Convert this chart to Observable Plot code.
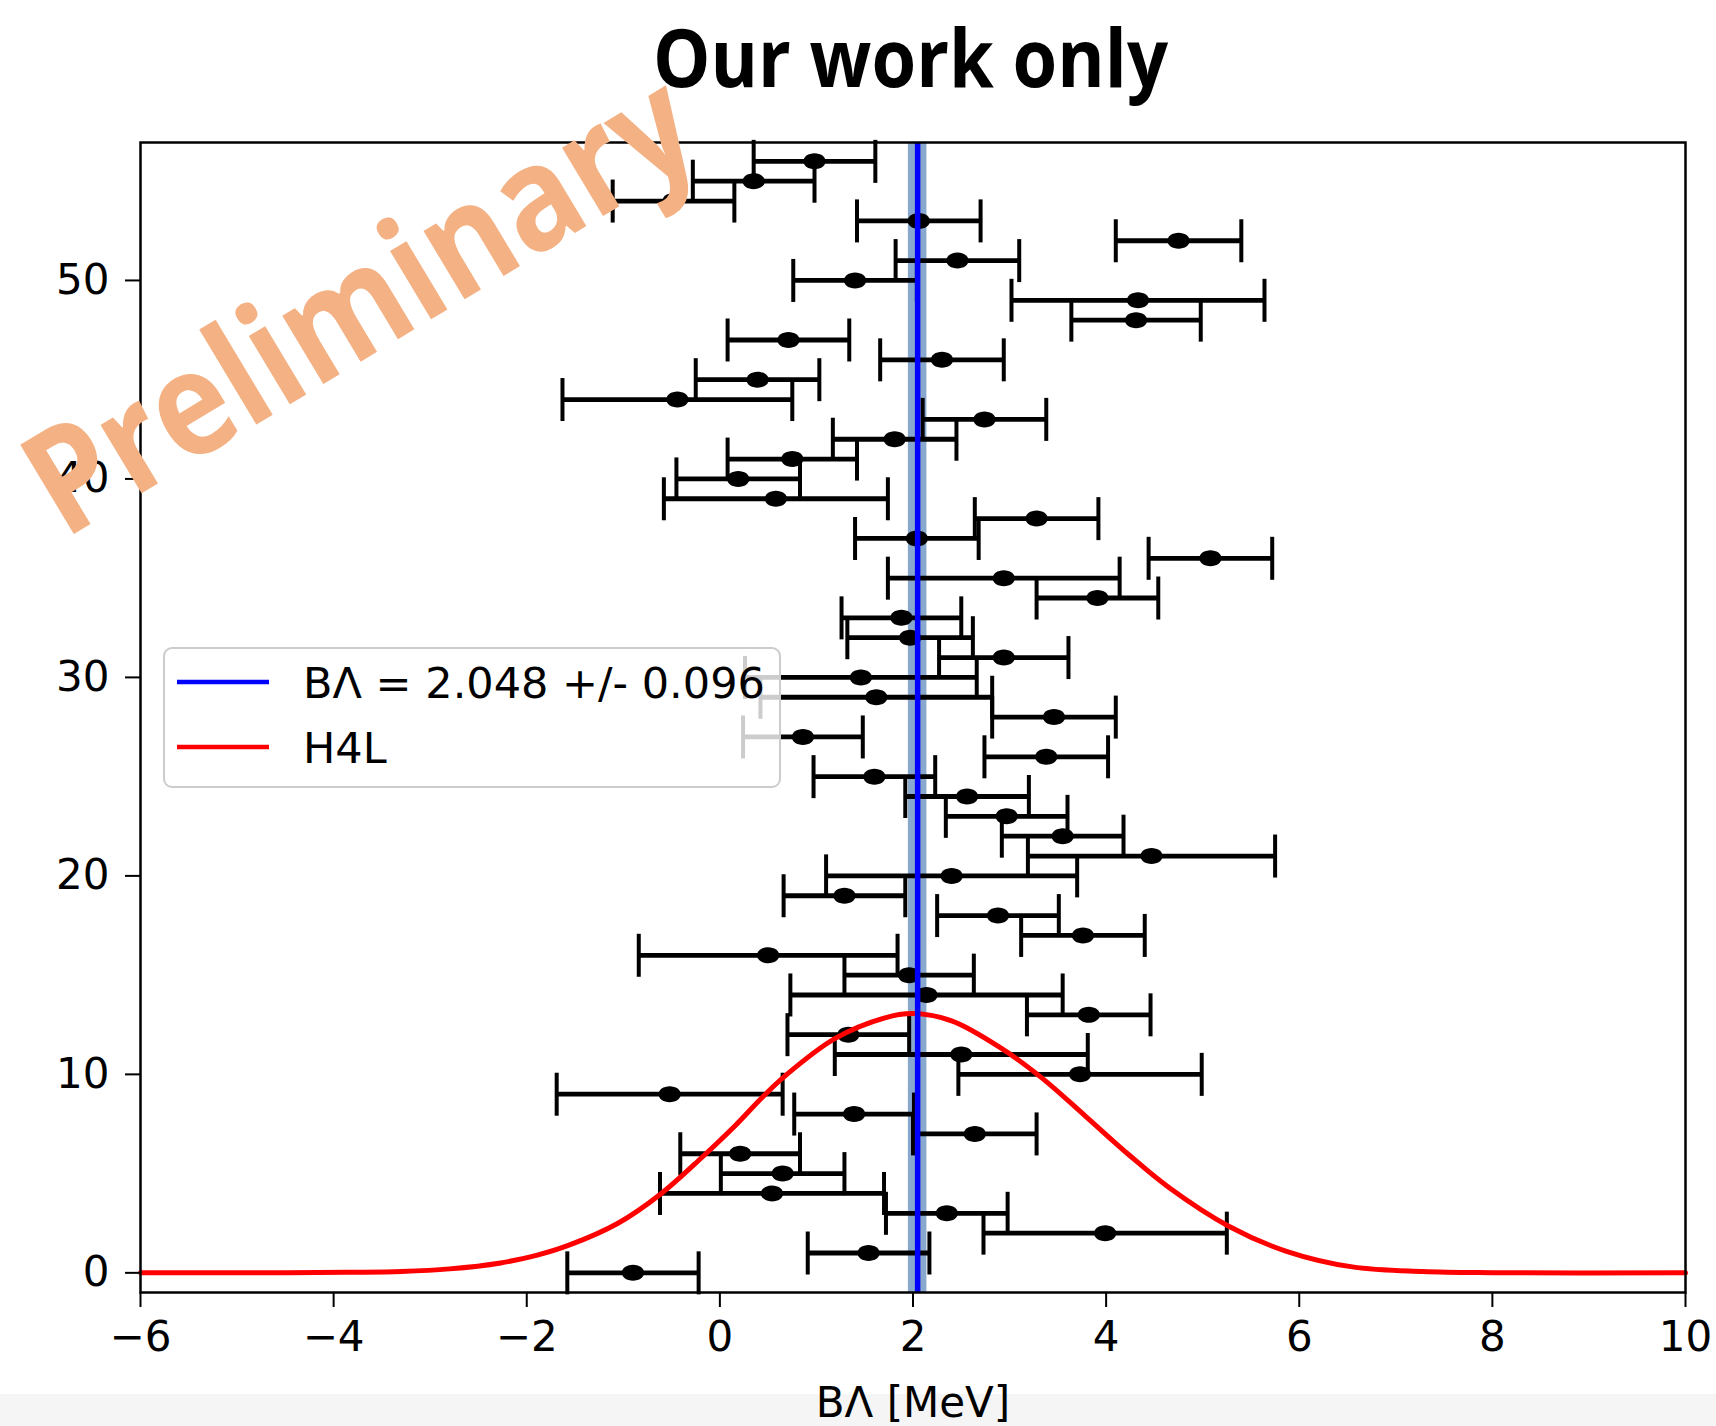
<!DOCTYPE html>
<html><head><meta charset="utf-8">
<script src="https://cdn.jsdelivr.net/npm/d3@7"></script>
<script src="https://cdn.jsdelivr.net/npm/@observablehq/plot@0.6"></script>
<style>
html,body{margin:0;padding:0;background:#fff;}
#wrap{position:relative;width:1716px;height:1426px;overflow:hidden;background:#fff;}
#strip{position:absolute;left:0;top:1394px;width:1716px;height:32px;background:#f5f5f5;}
#chart{position:absolute;left:0;top:0;}
#over{position:absolute;left:0;top:0;pointer-events:none;}
</style></head><body>
<div id="wrap"><div id="strip"></div><div id="chart"></div>
<svg id="over" width="1716" height="1426"></svg></div>
<script>
// ---- text ----
const titleText = "Our work only";
const xLabel = "BΛ [MeV]";
const watermarkText = "Preliminary";
const legendLabels = ["BΛ = 2.048 +/- 0.096", "H4L"];
const legendColors = ["blue", "red"];

// ---- fit result ----
const fitMean = 2.048;
const fitErr = 0.096;

// ---- measurements (index, value, half error) ----
const entryIndex = d3.range(57);
const entryValue = [-0.90, 1.54, 3.99, 2.35, 0.54, 0.65, 0.21, 2.64, 1.39, -0.52,
  3.73, 2.50, 1.33, 3.82, 2.14, 1.96, 0.50, 3.76, 2.88, 1.29,
  2.40, 4.47, 3.55, 2.97, 2.56, 1.60, 3.38, 0.86, 3.46, 1.62,
  1.46, 2.94, 1.97, 1.88, 3.91, 2.94, 5.08, 2.04, 3.28, 0.58,
  0.19, 0.75, 1.81, 2.74, -0.44, 0.39, 2.30, 0.71, 4.31, 4.33,
  1.40, 2.46, 4.75, 2.06, -0.48, 0.35, 0.98];
const entryError = [0.68, 0.63, 1.26, 0.63, 1.16, 0.64, 0.62, 0.64, 0.62, 1.17,
  1.26, 1.31, 0.63, 0.64, 1.41, 0.67, 1.34, 0.64, 0.63, 0.63,
  1.30, 1.28, 0.63, 0.63, 0.64, 0.63, 0.64, 0.62, 0.64, 1.20,
  1.20, 0.67, 0.65, 0.62, 0.63, 1.20, 0.64, 0.64, 0.64, 1.16,
  0.64, 0.67, 0.64, 0.64, 1.19, 0.64, 0.64, 0.63, 0.67, 1.31,
  0.64, 0.64, 0.65, 0.64, 0.63, 0.63, 0.63];

// ---- H4L curve ----
const curveX = [-6, -4.5, -3.8, -3.3, -2.8, -2.27, -1.9, -1.57, -1.055, -0.606,
  -0.19, 0.155, 0.43, 0.67, 1.19, 1.71, 1.99, 2.40, 2.92, 3.34,
  3.785, 4.235, 4.65, 5.27, 5.86, 6.55, 7.28, 8, 10];
const curveY = [0, 0.01, 0.03, 0.07, 0.2, 0.5, 0.88, 1.38, 2.5, 4.0,
  5.8, 7.4, 8.8, 9.9, 11.8, 12.85, 13.07, 12.7, 11.3, 9.8,
  7.9, 5.95, 4.3, 2.35, 1.1, 0.3, 0.07, 0.01, 0];

// ---- ticks ----
const xTicks = [-6, -4, -2, 0, 2, 4, 6, 8, 10];
const yTicks = [0, 10, 20, 30, 40, 50];
const xDomain = [-6, 10];
const yDomain = [-0.99, 56.95];

const rows = entryIndex.map((y, i) => ({y, x: entryValue[i], e: entryError[i]}));
const curve = curveX.map((x, i) => ({x, y: curveY[i]}));

const capSymbol = {draw(ctx, size) { const h = Math.sqrt(size / Math.PI); ctx.moveTo(0, -h); ctx.lineTo(0, h); }};
const ovalSymbol = {draw(ctx, size) {
  const r = Math.sqrt(size / Math.PI), rx = r * 1.4, ry = r, k = 0.5523;
  ctx.moveTo(rx, 0);
  ctx.bezierCurveTo(rx, ry * k, rx * k, ry, 0, ry);
  ctx.bezierCurveTo(-rx * k, ry, -rx, ry * k, -rx, 0);
  ctx.bezierCurveTo(-rx, -ry * k, -rx * k, -ry, 0, -ry);
  ctx.bezierCurveTo(rx * k, -ry, rx, -ry * k, rx, 0);
  ctx.closePath();
}};

const plot = Plot.plot({
  width: 1716, height: 1426,
  marginTop: 142, marginBottom: 134, marginLeft: 140, marginRight: 31,
  style: {background: "transparent", fontFamily: "'DejaVu Sans'", fontSize: "42px", color: "#000"},
  x: {domain: xDomain},
  y: {domain: yDomain},
  marks: [
    Plot.rect([fitMean], {x1: d => d - fitErr, x2: d => d + fitErr, y1: yDomain[0], y2: yDomain[1], fill: "#88a8ce"}),
    Plot.link(rows, {x1: d => d.x - d.e, x2: d => d.x + d.e, y1: "y", y2: "y", stroke: "black", strokeWidth: 4.8}),
    Plot.dot(rows, {x: d => d.x - d.e, y: "y", symbol: capSymbol, r: 21.5, stroke: "black", strokeWidth: 4}),
    Plot.dot(rows, {x: d => d.x + d.e, y: "y", symbol: capSymbol, r: 21.5, stroke: "black", strokeWidth: 4}),
    Plot.dot(rows, {x: "x", y: "y", r: 8, symbol: ovalSymbol, fill: "black", stroke: null}),
    Plot.line(curve, {x: "x", y: "y", stroke: "red", strokeWidth: 5, curve: "catmull-rom"}),
    Plot.ruleX([fitMean], {stroke: "blue", strokeWidth: 5.5}),
    Plot.axisX({ticks: xTicks, tickSize: 15, tickPadding: 14, fontSize: 42, strokeWidth: 2,
      label: xLabel, labelAnchor: "center", labelArrow: "none", labelOffset: 124}),
    Plot.axisY({ticks: yTicks, tickSize: 15, tickPadding: 16, fontSize: 42, strokeWidth: 2, label: null}),
    Plot.frame({stroke: "black", strokeWidth: 2.5})
  ]
});
document.getElementById("chart").appendChild(plot);

// ---- overlays: title, watermark, legend ----
const over = d3.select("#over");
over.append("text")
  .attr("x", 653).attr("y", 87)
  .attr("font-family", "'Open Sans', sans-serif").attr("font-weight", 700)
  .attr("font-size", 80).attr("textLength", 515).attr("lengthAdjust", "spacingAndGlyphs")
  .attr("fill", "#000").text(titleText);

over.append("text")
  .attr("transform", "translate(64,540) rotate(-31)")
  .attr("font-family", "'Open Sans', sans-serif").attr("font-weight", 700)
  .attr("font-size", 146).attr("textLength", 750).attr("lengthAdjust", "spacingAndGlyphs")
  .attr("fill", "#F4B183").text(watermarkText);

const lg = over.append("g");
lg.append("rect").attr("x", 164).attr("y", 648).attr("width", 616).attr("height", 139)
  .attr("rx", 8).attr("fill", "rgba(255,255,255,0.8)").attr("stroke", "#cccccc").attr("stroke-width", 2);
legendLabels.forEach((lab, i) => {
  const cy = 682 + i * 65;
  lg.append("line").attr("x1", 177).attr("x2", 269).attr("y1", cy).attr("y2", cy)
    .attr("stroke", legendColors[i]).attr("stroke-width", 4.5);
  lg.append("text").attr("x", 303).attr("y", cy + 16)
    .attr("font-family", "'DejaVu Sans'").attr("font-size", 43).attr("fill", "#000").text(lab);
});
</script>
</body></html>
